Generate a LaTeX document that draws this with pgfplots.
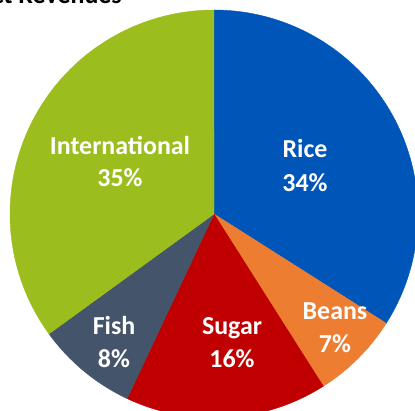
\documentclass[border=0pt]{standalone}
\usepackage{pgfplots}
\pgfplotsset{compat=1.18}
\usepackage{pgfplotstable}
\usepackage{fontspec}
\setmainfont{Carlito}
\definecolor{cRice}{RGB}{0,86,184}
\definecolor{cBeans}{RGB}{237,125,49}
\definecolor{cSugar}{RGB}{192,0,0}
\definecolor{cFish}{RGB}{68,84,106}
\definecolor{cIntl}{RGB}{155,190,30}
\pgfplotstableread{
label         value
Rice          34
Beans         7
Sugar         16
Fish          8
International 35
}\piedata
\begin{document}
\begin{tikzpicture}
\pgfplotstablegetelem{0}{value}\of\piedata\edef\vA{\pgfplotsretval}
\pgfplotstablegetelem{1}{value}\of\piedata\edef\vB{\pgfplotsretval}
\pgfplotstablegetelem{2}{value}\of\piedata\edef\vC{\pgfplotsretval}
\pgfplotstablegetelem{3}{value}\of\piedata\edef\vD{\pgfplotsretval}
\pgfplotstablegetelem{4}{value}\of\piedata\edef\vE{\pgfplotsretval}
\pgfmathsetmacro\sA{0}
\pgfmathsetmacro\sB{\sA+\vA}
\pgfmathsetmacro\sC{\sB+\vB}
\pgfmathsetmacro\sD{\sC+\vC}
\pgfmathsetmacro\sE{\sD+\vD}
\pgfmathsetmacro\sF{\sE+\vE}
\path[use as bounding box] (0,0) rectangle (415bp,411bp);
\clip (0,0) rectangle (415bp,411bp);
\begin{axis}[hide axis, scale only axis, width=415bp, height=411bp,
  xmin=0, xmax=415, ymin=0, ymax=411, clip=false, anchor=south west, at={(0,0)}]
\addplot[draw=cRice, fill=cRice, line width=0.4pt, domain=\sA:\sB, samples=100, variable=\p]
  ({214+204*cos(90-3.6*\p)},{197+204*sin(90-3.6*\p)}) -- (axis cs:214,197) -- cycle;
\addplot[draw=cBeans, fill=cBeans, line width=0.4pt, domain=\sB:\sC, samples=40, variable=\p]
  ({214+204*cos(90-3.6*\p)},{197+204*sin(90-3.6*\p)}) -- (axis cs:214,197) -- cycle;
\addplot[draw=cSugar, fill=cSugar, line width=0.4pt, domain=\sC:\sD, samples=60, variable=\p]
  ({214+204*cos(90-3.6*\p)},{197+204*sin(90-3.6*\p)}) -- (axis cs:214,197) -- cycle;
\addplot[draw=cFish, fill=cFish, line width=0.4pt, domain=\sD:\sE, samples=40, variable=\p]
  ({214+204*cos(90-3.6*\p)},{197+204*sin(90-3.6*\p)}) -- (axis cs:214,197) -- cycle;
\addplot[draw=cIntl, fill=cIntl, line width=0.4pt, domain=\sE:\sF, samples=100, variable=\p]
  ({214+204*cos(90-3.6*\p)},{197+204*sin(90-3.6*\p)}) -- (axis cs:214,197) -- cycle;
\tikzset{lbl/.style={text=white, font=\fontsize{26}{31}\selectfont\bfseries, anchor=base, inner sep=0pt}}
\node[lbl] at (axis cs:120,256) {International};
\node[lbl] at (axis cs:120,224) {35\%};
\node[lbl] at (axis cs:305,253) {Rice};
\node[lbl] at (axis cs:305,219) {34\%};
\node[lbl] at (axis cs:335,91) {Beans};
\node[lbl] at (axis cs:335,58) {7\%};
\node[lbl] at (axis cs:232,76) {Sugar};
\node[lbl] at (axis cs:232,43) {16\%};
\node[lbl] at (axis cs:114,76) {Fish};
\node[lbl] at (axis cs:114,43) {8\%};
\node[text=black, font=\fontsize{26}{31}\selectfont\bfseries, anchor=base east, inner sep=0pt] at (axis cs:122,407) {Product Revenues};
\end{axis}
\end{tikzpicture}
\end{document}
